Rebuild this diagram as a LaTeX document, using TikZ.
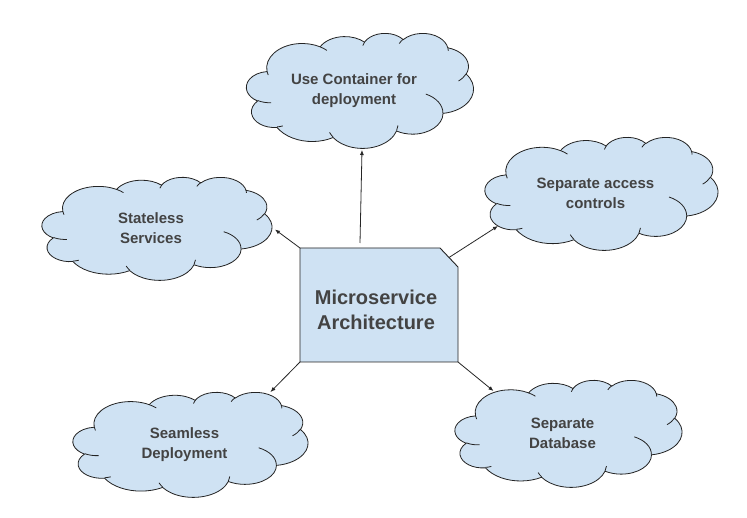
\documentclass[tikz,border=0pt]{standalone}
\usepackage{fontspec}
\setmainfont{Liberation Sans}
\usetikzlibrary{arrows.meta,calc}
\definecolor{cloudblue}{RGB}{207,226,243}
\definecolor{inkgray}{RGB}{67,67,67}
\definecolor{edgegray}{RGB}{35,35,35}
\tikzset{
  puff/.style={draw=edgegray, line width=0.8pt, fill=cloudblue},
  puffline/.style={draw=edgegray, line width=0.8pt},
  spot/.style={inner sep=0pt, outer sep=0pt},
  cloudtext/.style={font=\fontsize{15}{20}\selectfont\bfseries,
                    text=inkgray, align=center},
  archedge/.style={draw=edgegray, line width=0.9pt, fill=cloudblue},
  maintext/.style={font=\fontsize{20}{25}\selectfont\bfseries,
                   text=inkgray, align=center},
  flow/.style={-{Latex[length=5pt,width=4pt]}, line width=0.8pt, draw=black!85},
}
% cloud outline: centre x, centre y, width, height
\newcommand{\puffcloud}[4]{%
  \begin{scope}[shift={(#1-#3/2,#2-#4/2)}, xscale=#3/432, yscale=#4/432]
    \draw[puff] (39.00,143.70)
      arc[x radius=67.53, y radius=91.90, start angle=-187.75, end angle=-59.64]
      arc[x radius=53.33, y radius=72.67, start angle=-152.01, end angle=-45.45]
      arc[x radius=43.65, y radius=59.45, start angle=-153.49, end angle=-37.31]
      arc[x radius=48.57, y radius=65.95, start angle=-139.71, end angle=-10.21]
      arc[x radius=53.33, y radius=72.73, start angle=-74.77, end angle=23.21]
      arc[x radius=67.75, y radius=92.20, start angle=-37.52, end angle=81.86]
      arc[x radius=57.85, y radius=78.67, start angle=0.46, end angle=121.98]
      arc[x radius=67.52, y radius=92.15, start angle=16.84, end angle=146.23]
      arc[x radius=77.20, y radius=105.43, start angle=58.99, end angle=150.21]
      arc[x radius=43.60, y radius=59.18, start angle=-276.69, end angle=-136.89]
      arc[x radius=43.45, y radius=59.45, start angle=-239.65, end angle=-95.89]
      -- cycle;
    \draw[puffline]
      (46.93,261.77) arc[x radius=43.45, y radius=59.45, start angle=85.55, end angle=120.35]
      (69.28,348.99) arc[x radius=43.60, y radius=59.18, start angle=68.24, end angle=83.30]
      (164.78,390.90) arc[x radius=67.52, y radius=92.15, start angle=146.23, end angle=158.48]
      (288.27,347.51) arc[x radius=67.52, y radius=92.15, start angle=4.74, end angle=16.84]
      (341.29,229.54) arc[x radius=57.85, y radius=78.67, start angle=-64.03, end angle=0.46]
      (417.98,153.54) arc[x radius=53.33, y radius=72.73, start angle=23.21, end angle=49.65]
      (383.24,54.26) arc[x radius=48.57, y radius=65.95, start angle=-10.21, end angle=0.82]
      (290.78,39.52) arc[x radius=48.57, y radius=65.95, start angle=-156.28, end angle=-139.71]
      (221.41,47.20) arc[x radius=43.65, y radius=59.45, start angle=-167.73, end angle=-153.49]
      (140.00,51.92) arc[x radius=67.53, y radius=91.90, start angle=-59.64, end angle=-45.73]
      (41.27,157.89) arc[x radius=67.53, y radius=91.90, start angle=163.20, end angle=172.25];
  \end{scope}}
% cloud with its label: name, centre x, centre y, width, height, text
\newcommand{\cloudnode}[6]{%
  \puffcloud{#2}{#3}{#4}{#5}
  \node[spot, minimum width=#4pt, minimum height=#5pt] (#1) at (#2,#3) {};
  \node[cloudtext, xshift=-6pt] (#1-text) at (#1) {#6};}

\begin{document}
\begin{tikzpicture}[x=1pt,y=-1pt]
  \path[use as bounding box, fill=white] (0,0) rectangle (747,518);

  % Clouds round the centre.
  \cloudnode{usecont}{360}{90.5}{227}{115}{Use Container for\\deployment}
  \cloudnode{stateless}{157}{228.5}{230}{103}{Stateless\\Services}
  \cloudnode{sepaccess}{601.5}{193.5}{233}{113}{Separate access\\controls}
  \cloudnode{seamless}{190.5}{444.5}{235}{105}{Seamless\\Deployment}
  \cloudnode{sepdb}{568.5}{433.5}{227}{107}{Separate\\Database}

  % Central box with its cut corner.
  \node[spot, minimum width=158pt, minimum height=114pt] (arch) at (379,305) {};
  \draw[archedge] (arch.south west) -- (arch.north west)
    -- ($(arch.north east)+(-18,0)$) -- ($(arch.north east)+(0,19)$)
    -- (arch.south east) -- cycle;
  \coordinate (archcut) at ($(arch.north east)+(-9,9.5)$);
  \node[maintext, xshift=-3pt, yshift=-5pt] (arch-text) at (arch)
    {Microservice\\Architecture};

  % Connectors.
  \draw[flow] ($(arch.north)+(-19,-5)$) -- ($(usecont.south)+(2,2)$);
  \draw[flow] (arch.north west) -- ($(stateless.east)+(3,1)$);
  \draw[flow] (archcut) -- ($(sepaccess.south west)+(13,-24)$);
  \draw[flow] (arch.south west) -- ($(seamless.north)+(80,0)$);
  \draw[flow] (arch.south east) -- ($(sepdb.north)+(-75,11)$);
\end{tikzpicture}
\end{document}
